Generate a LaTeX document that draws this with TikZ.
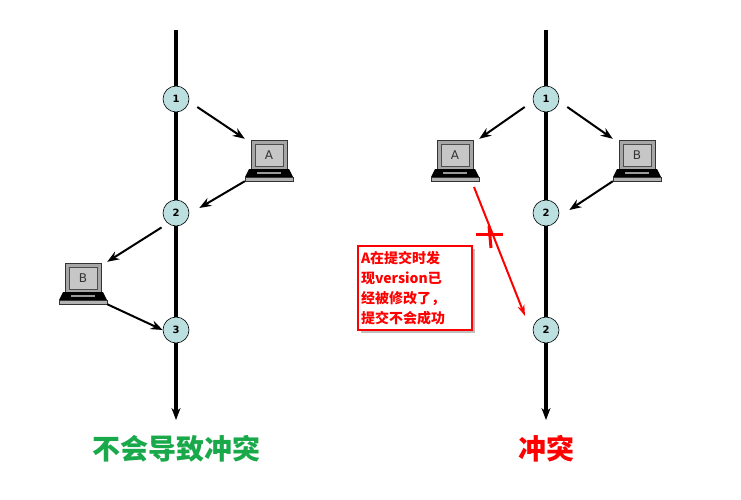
\documentclass[tikz,border=0pt]{standalone}
\usepackage{fontspec}
\setmainfont{DejaVu Sans}
\newfontfamily\cjk{Noto Sans CJK SC}
\usetikzlibrary{arrows.meta,shadows}
\definecolor{cfill}{HTML}{BCE0E0}
\definecolor{gr}{HTML}{19A84A}
\tikzset{
 ver/.style={circle,draw=black,fill=cfill,minimum size=26pt,inner sep=0pt,font=\bfseries\fontsize{10}{10}\selectfont,line width=0.6pt},
 tl/.style={line width=3.5pt,-{Stealth[length=12pt,width=9pt]}},
 ar/.style={line width=2pt,-{Stealth[length=12pt,width=9pt]}},
 pc/.style={inner sep=0pt,minimum width=48pt,minimum height=42pt},
}
\newcommand{\laptop}[3]{%
 \node[pc] (#1) at (#2) {};
 \begin{scope}[shift={(#2)}]
  \fill[gray!70] (-18,-20) rectangle (18,9);
  \draw[black!80,line width=0.8pt] (-18,-20) rectangle (18,9);
  \fill[gray!45] (-14,-16) rectangle (14,6);
  \draw[black!70,line width=0.5pt] (-14,-16) rectangle (14,6);
  \fill[black] (-20,9) -- (20,9) -- (24,17) -- (-24,17) -- cycle;
  \fill[gray!60] (-24,17) rectangle (24,21);
  \draw[black!80,line width=0.5pt] (-24,17) rectangle (24,21);
  \fill[gray!80] (-12,12) rectangle (12,14);
  \node[font=\fontsize{12}{12}\selectfont,text=black!80] at (0,-5) {#3};
 \end{scope}}
\begin{document}
\begin{tikzpicture}[x=1pt,y=-1pt]
\useasboundingbox (0,0) rectangle (741,499);
% left
\coordinate (lt) at (176,30); \coordinate (lb) at (176,420);
\draw[tl] (lt) -- (lb);
\node[ver] (l1) at (176,99) {1};
\node[ver] (l2) at (176,213) {2};
\node[ver] (l3) at (176,330) {3};
\laptop{la}{269,160}{A}
\laptop{lbp}{83,283}{B}
\draw[ar] ([shift={(8,8)}]l1.east) -- (la.north west);
\draw[ar] (la.south west) -- ([shift={(10,-5)}]l2.east);
\draw[ar] ([shift={(-5,5)}]l2.south west) -- (lbp.north east);
\draw[ar] (lbp.south east) -- (l3.west);
\node[font=\cjk\bfseries\fontsize{28}{28}\selectfont,text=gr] (t1) at (176,449) {不会导致冲突};
% right
\coordinate (rt) at (546,30); \coordinate (rb) at (546,420);
\draw[tl] (rt) -- (rb);
\node[ver] (r1) at (546,99) {1};
\node[ver] (r2) at (546,213) {2};
\node[ver] (r3) at (546,330) {2};
\laptop{ra}{455,160}{A}
\laptop{rbp}{637,160}{B}
\draw[ar] ([shift={(-8,8)}]r1.west) -- (ra.north east);
\draw[ar] ([shift={(8,8)}]r1.east) -- (rbp.north west);
\draw[ar] (rbp.south west) -- ([shift={(10,-3)}]r2.east);
\coordinate (rs) at (474,187); \coordinate (re) at (525,316);
\draw[red,line width=2pt,-{Stealth[length=11pt,width=7pt]}] (rs) -- (re);
\draw[red,line width=3pt] (476,234) -- (503,234);
\draw[red,line width=3pt] (489,226) -- (491,248);
\node[draw=red,line width=2pt,fill=white,drop shadow={shadow xshift=3pt,shadow yshift=-3pt,opacity=0.5},
 text=red,align=left,font=\cjk\bfseries\fontsize{14}{20}\selectfont,inner sep=3pt,text width=108pt,minimum height=84pt] (box) at (415,288)
 {A在提交时发\\现version已\\经被修改了，\\提交不会成功};
\node[font=\cjk\bfseries\fontsize{28}{28}\selectfont,text=red] (t2) at (546,449) {冲突};
\end{tikzpicture}
\end{document}
